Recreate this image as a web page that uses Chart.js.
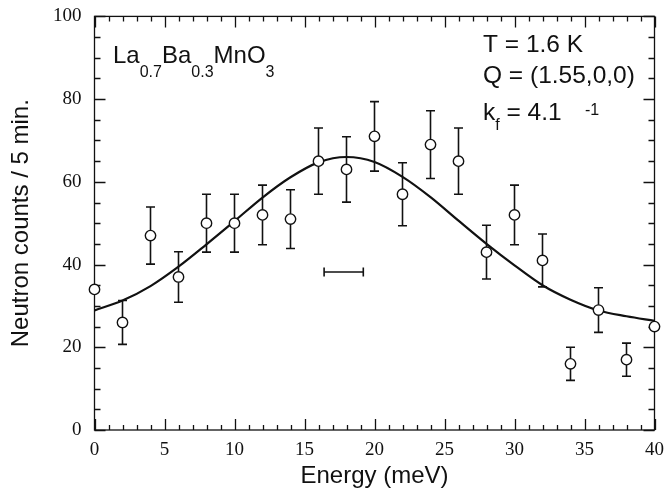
<!DOCTYPE html>
<html>
<head>
<meta charset="utf-8">
<script src="https://cdn.jsdelivr.net/npm/chart.js@4.4.1/dist/chart.umd.min.js"></script>
<style>
  html, body { margin: 0; padding: 0; background: #fff; }
  #grafico { display: block; }
</style>
</head>
<body>
<canvas id="grafico" width="666" height="493"></canvas>
<script>
// Energy scan, counts per 5 min with statistical errors
const energy = [0, 2, 4, 6, 8, 10, 12, 14, 16, 18, 20, 22, 24, 26, 28, 30, 32, 34, 36, 38, 40];
const counts = [34, 26, 47, 37, 50, 50, 52, 51, 65, 63, 71, 57, 69, 65, 43, 52, 41, 16, 29, 17, 25];
const countErr = [null, 5.3, 6.9, 6.1, 7.0, 7.0, 7.2, 7.1, 8.0, 7.9, 8.4, 7.6, 8.2, 8.0, 6.5, 7.2, 6.4, 4.0, 5.4, 4.0, null];

// fitted curve
const fitEnergy = [0, 2, 4, 6, 8, 10, 12, 14, 16, 18, 20, 22, 24, 26, 28, 30, 32, 34, 36, 38, 40];
const fitCounts = [28.9, 31.3, 34.8, 39.5, 44.9, 50.5, 56.2, 61.1, 64.7, 66.0, 64.8, 61.2, 56.3, 50.6, 45.0, 39.8, 35.0, 31.5, 28.9, 27.5, 26.4];

// instrumental resolution bar
const resEnergy = [16.4, 19.2];
const resCounts = 38.2;

const xTicks = [0, 5, 10, 15, 20, 25, 30, 35, 40];
const yTicks = [0, 20, 40, 60, 80, 100];

const sans = '"Liberation Sans", Arial, Helvetica, sans-serif';
const serif = '"Liberation Serif", "Times New Roman", serif';
const ink = '#111';

function drawRuns(ctx, x, y, runs) {
    for (const [text, size, dy] of runs) {
        ctx.font = size + 'px ' + sans;
        ctx.fillText(text, x, y + dy);
        x += ctx.measureText(text).width;
    }
    return x;
}

const marcoPlugin = {
    id: 'marco',
    beforeDatasetsDraw(chart) {
        const {ctx, chartArea: a, scales: {x, y}} = chart;
        ctx.save();
        ctx.strokeStyle = ink;
        ctx.lineWidth = 1.3;
        ctx.strokeRect(a.left, a.top, a.right - a.left, a.bottom - a.top);
        // ticks pointing inward on all four sides
        ctx.beginPath();
        for (let e = x.min; e <= x.max; e += 1) {
            const px = Math.round(x.getPixelForValue(e)) + 0.5;
            const len = xTicks.includes(e) ? 11 : 5;
            ctx.moveTo(px, a.bottom); ctx.lineTo(px, a.bottom - len);
            ctx.moveTo(px, a.top); ctx.lineTo(px, a.top + len);
        }
        for (let c = y.min; c <= y.max; c += 5) {
            const py = Math.round(y.getPixelForValue(c)) + 0.5;
            const len = yTicks.includes(c) ? 11 : 6;
            ctx.moveTo(a.left, py); ctx.lineTo(a.left + len, py);
            ctx.moveTo(a.right, py); ctx.lineTo(a.right - len, py);
        }
        ctx.stroke();

        // error bars
        ctx.lineWidth = 1.6;
        ctx.beginPath();
        energy.forEach((e, i) => {
            if (countErr[i] == null) return;
            const px = x.getPixelForValue(e);
            const top = y.getPixelForValue(counts[i] + countErr[i]);
            const bot = y.getPixelForValue(counts[i] - countErr[i]);
            ctx.moveTo(px, top); ctx.lineTo(px, bot);
            ctx.moveTo(px - 4.5, top); ctx.lineTo(px + 4.5, top);
            ctx.moveTo(px - 4.5, bot); ctx.lineTo(px + 4.5, bot);
        });
        // end caps of the resolution bar
        const ry = y.getPixelForValue(resCounts);
        resEnergy.forEach(e => {
            const px = x.getPixelForValue(e);
            ctx.moveTo(px, ry - 4.5); ctx.lineTo(px, ry + 4.5);
        });
        ctx.stroke();
        ctx.restore();
    },
    afterDraw(chart) {
        const ctx = chart.ctx;
        ctx.save();
        ctx.fillStyle = ink;
        ctx.textBaseline = 'alphabetic';
        ctx.textAlign = 'left';
        drawRuns(ctx, 113, 63.3, [['La', 24, 0], ['0.7', 16, 13.4], ['Ba', 24, 0], ['0.3', 16, 13.4], ['MnO', 24, 0], ['3', 16, 13.4]]);
        drawRuns(ctx, 483, 51.7, [['T = 1.6 K', 24.5, 0]]);
        drawRuns(ctx, 483, 83.3, [['Q = (1.55,0,0)', 24.5, 0]]);
        drawRuns(ctx, 483, 120, [['k', 24.5, 0], ['f', 16, 10], [' = 4.1', 24.5, 0]]);
        drawRuns(ctx, 585, 115, [['-1', 16, 0]]);
        ctx.restore();
    }
};

new Chart(document.getElementById('grafico').getContext('2d'), {
    type: 'scatter',
    data: {
        datasets: [{
            label: 'Counts',
            data: energy.map((e, i) => ({x: e, y: counts[i]})),
            pointStyle: 'circle',
            pointRadius: 5.2,
            pointBorderWidth: 1.4,
            pointBackgroundColor: '#fff',
            pointBorderColor: ink,
            showLine: false,
            clip: false
        }, {
            label: 'Fit',
            type: 'line',
            data: fitEnergy.map((e, i) => ({x: e, y: fitCounts[i]})),
            borderColor: ink,
            borderWidth: 2.2,
            pointRadius: 0,
            cubicInterpolationMode: 'monotone',
            fill: false
        }, {
            label: 'Resolution',
            type: 'line',
            data: resEnergy.map(e => ({x: e, y: resCounts})),
            borderColor: ink,
            borderWidth: 1.5,
            pointRadius: 0,
            fill: false
        }]
    },
    options: {
        responsive: false,
        animation: false,
        layout: {padding: {top: 15, right: 11.5, left: 0, bottom: 0}},
        plugins: {legend: {display: false}, tooltip: {enabled: false}},
        scales: {
            x: {
                type: 'linear',
                min: 0, max: 40,
                grid: {display: false},
                border: {display: false},
                afterFit: s => { s.height = 63; },
                afterBuildTicks: s => { s.ticks = xTicks.map(v => ({value: v})); },
                ticks: {color: ink, font: {family: serif, size: 19}, padding: 1, autoSkip: false, maxRotation: 0},
                title: {display: true, text: 'Energy (meV)', color: ink, font: {family: sans, size: 24}, padding: {top: 0, bottom: 2}}
            },
            y: {
                type: 'linear',
                min: 0, max: 100,
                grid: {display: false},
                border: {display: false},
                afterFit: s => { s.width = 94.5; },
                afterBuildTicks: s => { s.ticks = yTicks.map(v => ({value: v})); },
                ticks: {color: ink, font: {family: serif, size: 19}, padding: 5},
                title: {display: true, text: 'Neutron counts / 5 min.', color: ink, font: {family: sans, size: 24}, padding: {top: 7, bottom: 0}}
            }
        }
    },
    plugins: [marcoPlugin]
});
</script>
</body>
</html>
